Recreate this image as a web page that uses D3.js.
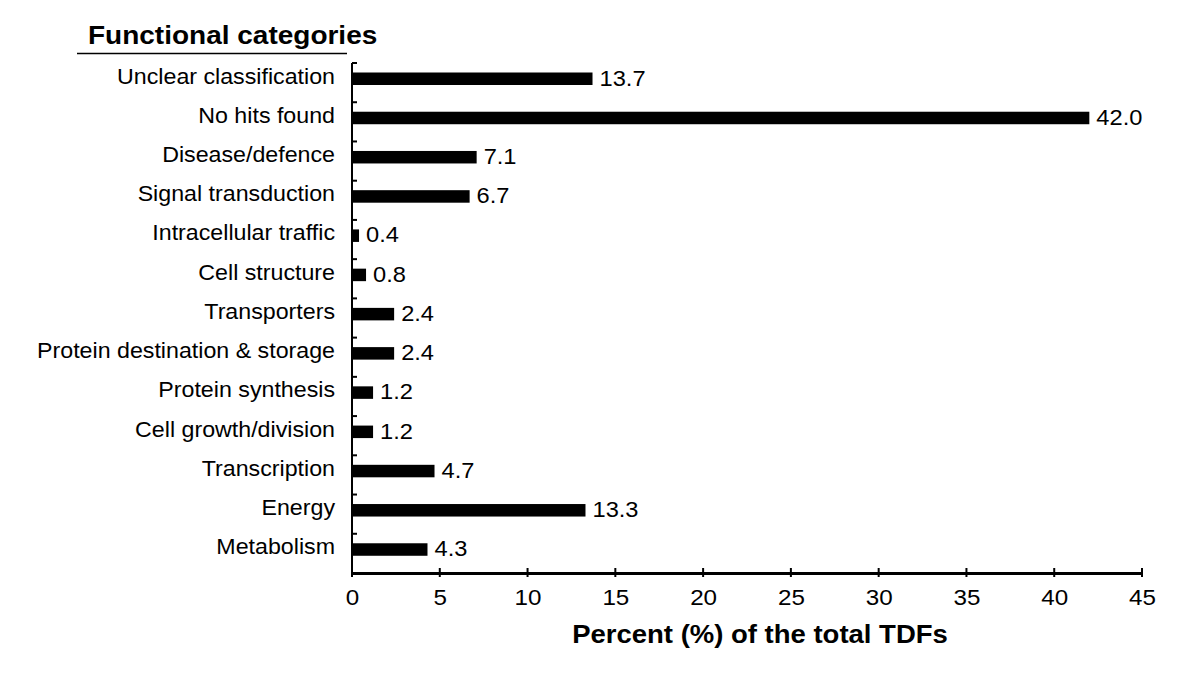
<!DOCTYPE html>
<html><head><meta charset="utf-8">
<script src="https://cdn.jsdelivr.net/npm/d3@7"></script>
<style>body{margin:0;background:#fff}text{font-family:"Liberation Sans",Arial,sans-serif;fill:#000}</style>
</head><body><svg id="c" width="1200" height="679"></svg>
<script>
const categories = ["Unclear classification","No hits found","Disease/defence","Signal transduction","Intracellular traffic","Cell structure","Transporters","Protein destination & storage","Protein synthesis","Cell growth/division","Transcription","Energy","Metabolism"];
const values = [13.7,42.0,7.1,6.7,0.4,0.8,2.4,2.4,1.2,1.2,4.7,13.3,4.3];
const xTicks = [0,5,10,15,20,25,30,35,40,45];
const titleText = "Functional categories";
const xLabel = "Percent (%) of the total TDFs";

(function(){
const svg = d3.select("#c");
const mLeft = 352, mRight = 1142, mTop = 63, mBottom = 573;
const SX = 1.1;
const x = d3.scaleLinear().domain([0,45]).range([mLeft,mRight]);
const y = d3.scaleBand().domain(categories).range([mTop,mBottom]);
const bw = y.bandwidth();

// bars
svg.selectAll("rect.bar").data(values).enter().append("rect")
  .attr("x", x(0)).attr("y", (d,i)=>y(categories[i])+9.5)
  .attr("width", d=>x(d)-x(0)).attr("height", 12.5).attr("fill","#000");
// value labels
svg.selectAll("text.val").data(values).enter().append("text")
  .attr("transform",(d,i)=>`translate(${x(d)+7},${y(categories[i])+22.5}) scale(${SX},1)`)
  .attr("font-size",21.5).text(d=>d.toFixed(1));
// category labels
svg.selectAll("text.cat").data(categories).enter().append("text")
  .attr("transform", d=>`translate(335,${y(d)+20.5}) scale(1.08,1)`).attr("text-anchor","end")
  .attr("font-size",21.5).text(d=>d);

// y axis line and ticks
svg.append("line").attr("x1",mLeft).attr("x2",mLeft).attr("y1",mTop).attr("y2",mBottom).attr("stroke","#000").attr("stroke-width",2);
const bounds = categories.map(c=>y(c));
svg.selectAll("line.yt").data(bounds).enter().append("line")
  .attr("x1",mLeft).attr("x2",mLeft+5).attr("y1",d=>d).attr("y2",d=>d).attr("stroke","#000").attr("stroke-width",2);

// x axis
const xa = svg.append("g").attr("transform",`translate(0,${mBottom})`)
  .call(d3.axisBottom(x).tickValues(xTicks).tickSize(0));
xa.select(".domain").attr("stroke","#000").attr("stroke-width",3);
xa.selectAll("text").attr("font-size",22).attr("font-family","Liberation Sans, Arial, sans-serif").attr("fill","#000")
  .attr("y",32).attr("dy",null).attr("transform",`scale(${SX},1)`);
svg.selectAll("line.xt").data(xTicks).enter().append("line")
  .attr("x1",d=>x(d)).attr("x2",d=>x(d)).attr("y1",mBottom-5).attr("y2",mBottom+4).attr("stroke","#000").attr("stroke-width",2);

// title
svg.append("text").attr("transform",`translate(88,44) scale(1.12,1)`).attr("font-size",25).attr("font-weight","bold").text(titleText);
svg.append("line").attr("x1",77).attr("x2",347).attr("y1",53.5).attr("y2",53.5).attr("stroke","#000").attr("stroke-width",1.5);
// x label
svg.append("text").attr("transform",`translate(760,643) scale(1.1,1)`).attr("text-anchor","middle").attr("font-size",25).attr("font-weight","bold").text(xLabel);
})();
</script></body></html>
